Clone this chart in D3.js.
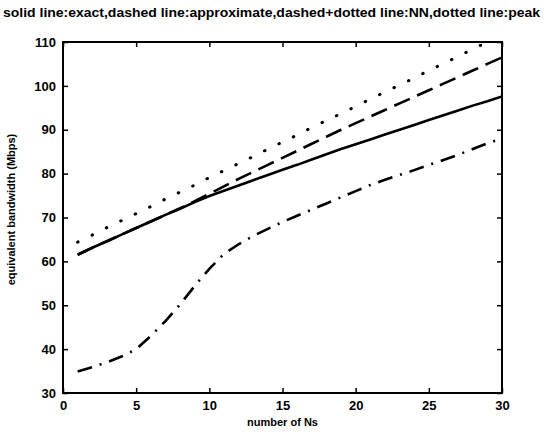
<!DOCTYPE html>
<html>
<head>
<meta charset="utf-8">
<script src="https://cdn.jsdelivr.net/npm/d3@7"></script>
<style>
  body { margin: 0; background: #fff; }
  text { font-family: "Liberation Sans", Arial, sans-serif; font-weight: bold; fill: #000; }
</style>
</head>
<body>
<div id="chart"></div>
<script>
// values, x = number of Ns
const xs = d3.range(1, 31)
const exact = [61.5, 63.1, 64.6, 66.1, 67.6, 69.1, 70.6, 72.0, 73.5, 74.9,
    76.1, 77.3, 78.5, 79.7, 80.9, 82.0, 83.2, 84.4, 85.6, 86.7,
    87.8, 88.9, 90.0, 91.1, 92.2, 93.3, 94.4, 95.5, 96.5, 97.6]
const approx = [61.5, 63.1, 64.6, 66.1, 67.6, 69.1, 70.6, 72.1, 73.7, 75.4,
    77.1, 78.8, 80.4, 82.0, 83.6, 85.2, 86.8, 88.4, 90.0, 91.5,
    93.0, 94.5, 96.0, 97.5, 99.0, 100.5, 102.0, 103.5, 105.0, 106.5]
const nn = [34.9, 35.9, 37.0, 38.3, 40.0, 43.0, 46.4, 50.2, 54.4, 58.3,
    61.7, 63.9, 65.8, 67.4, 69.0, 70.4, 71.8, 73.2, 74.6, 76.0,
    77.4, 78.6, 79.7, 80.8, 82.0, 83.1, 84.3, 85.6, 86.9, 88.0]
const peak = [64.4, 66.0, 67.7, 69.3, 70.9, 72.5, 74.2, 75.8, 77.4, 79.1,
    80.7, 82.3, 83.9, 85.6, 87.2, 88.8, 90.5, 92.1, 93.7, 95.3,
    97.0, 98.6, 100.2, 101.8, 103.5, 105.1, 106.7, 108.4, 110.0, 111.6]
const xTicks = [0, 5, 10, 15, 20, 25, 30]
const yTicks = [30, 40, 50, 60, 70, 80, 90, 100, 110]

const title = "solid line:exact,dashed line:approximate,dashed+dotted line:NN,dotted line:peak"

const margin = { top: 42, right: 42, bottom: 39, left: 63 },
    width = 544 - margin.left - margin.right,
    height = 432 - margin.top - margin.bottom

const svg = d3.select("#chart")
    .append("svg")
    .attr("width", 544)
    .attr("height", 432)

const g = svg.append("g")
    .attr("transform", `translate(${margin.left},${margin.top})`)

const x = d3.scaleLinear().domain([0, 30]).range([0, width])
const y = d3.scaleLinear().domain([30, 110]).range([height, 0])

// Title
svg.append("text")
    .attr("x", 3)
    .attr("y", 17)
    .attr("textLength", 537)
    .attr("lengthAdjust", "spacingAndGlyphs")
    .style("font-size", "12px")
    .text(title)

g.append("clipPath").attr("id", "clip")
    .append("rect").attr("width", width).attr("height", height)

const line = d3.line()
    .x((d, i) => x(xs[i]))
    .y(d => y(d))

const series = [
    { values: approx, dash: "17,8", cap: "butt" },
    { values: exact, dash: null, cap: "butt" },
    { values: nn, dash: "15,8,2,8", cap: "butt" },
    { values: peak, dash: "0.5,15.5", cap: "round" }
]

g.append("g")
    .attr("clip-path", "url(#clip)")
    .selectAll("path")
    .data(series)
    .join("path")
    .attr("d", d => line(d.values))
    .attr("fill", "none")
    .attr("stroke", "#000")
    .attr("stroke-width", d => d.cap === "round" ? 3 : 2.6)
    .attr("stroke-linecap", d => d.cap)
    .attr("stroke-dasharray", d => d.dash)

// axes, ticks pointing inward, box all round
const tickLen = 5
g.append("g")
    .attr("transform", `translate(0,${height})`)
    .call(d3.axisBottom(x).tickValues(xTicks).tickSizeInner(-tickLen).tickSizeOuter(0).tickPadding(8))
g.append("g")
    .call(d3.axisLeft(y).tickValues(yTicks).tickSizeInner(-tickLen).tickSizeOuter(0).tickPadding(7))
g.append("g")
    .call(d3.axisTop(x).tickValues(xTicks).tickSizeInner(-tickLen).tickSizeOuter(0).tickFormat(""))
g.append("g")
    .attr("transform", `translate(${width},0)`)
    .call(d3.axisRight(y).tickValues(yTicks).tickSizeInner(-tickLen).tickSizeOuter(0).tickFormat(""))

g.selectAll(".domain").remove()
g.selectAll(".tick line").attr("stroke", "#000").attr("stroke-width", 1.5)
g.selectAll(".tick text")
    .style("font-size", "13px")
    .style("font-family", "'Liberation Sans', Arial, sans-serif")
    .style("font-weight", "bold")

g.append("rect")
    .attr("width", width)
    .attr("height", height)
    .attr("fill", "none")
    .attr("stroke", "#000")
    .attr("stroke-width", 2)

// axis labels
g.append("text")
    .attr("x", width / 2)
    .attr("y", height + 33)
    .attr("text-anchor", "middle")
    .style("font-size", "11px")
    .text("number of Ns")

g.append("text")
    .attr("transform", `translate(${-48},${height / 2 - 8}) rotate(-90)`)
    .attr("text-anchor", "middle")
    .style("font-size", "11px")
    .text("equivalent bandwidth (Mbps)")
</script>
</body>
</html>
